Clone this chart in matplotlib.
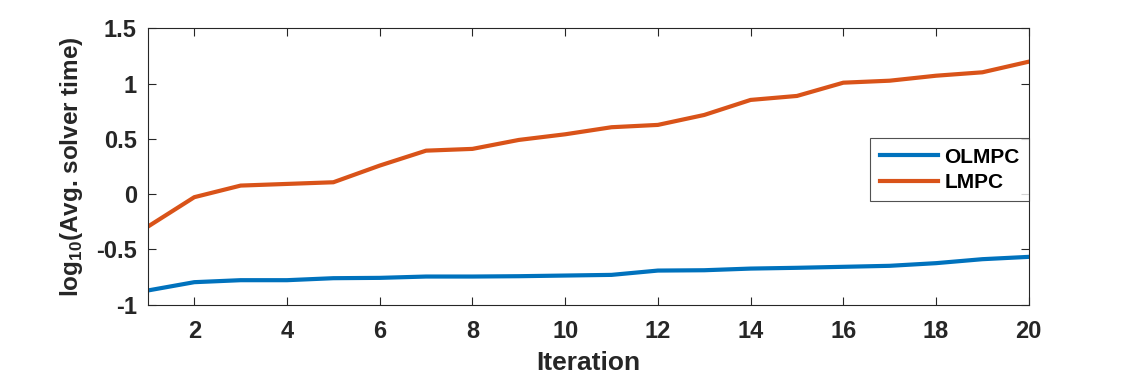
import matplotlib.pyplot as plt
import numpy as np

plt.rcParams['font.family'] = ['Liberation Sans', 'DejaVu Sans']
plt.rcParams['font.weight'] = 'bold'
plt.rcParams['mathtext.fontset'] = 'custom'
plt.rcParams['mathtext.rm'] = 'Liberation Sans:bold'

# log10 of average solver time per iteration
iterations = np.arange(1, 21)
olmpc = [-0.872, -0.797, -0.779, -0.779, -0.761, -0.758, -0.746, -0.746, -0.743, -0.737,
         -0.731, -0.692, -0.689, -0.674, -0.667, -0.658, -0.649, -0.625, -0.589, -0.568]
lmpc = [-0.294, -0.028, 0.077, 0.092, 0.107, 0.258, 0.393, 0.409, 0.490, 0.541,
        0.605, 0.626, 0.716, 0.852, 0.888, 1.008, 1.026, 1.071, 1.102, 1.198]

axis_color = (0.15, 0.15, 0.15)

fig = plt.figure(figsize=(11.38, 3.81), dpi=100)
ax = fig.add_axes([0.130, 0.2005, 0.774, 0.7252])

ax.plot(iterations, olmpc, color='#0072BD', lw=3, label='OLMPC')
ax.plot(iterations, lmpc, color='#D95319', lw=3, label='LMPC')

ax.set_xlim(1, 20)
ax.set_ylim(-1, 1.5)
ax.set_xticks(np.arange(2, 21, 2))
ax.set_yticks([-1, -0.5, 0, 0.5, 1, 1.5])
ax.set_yticklabels(['-1', '-0.5', '0', '0.5', '1', '1.5'])

ax.tick_params(direction='in', top=True, right=True, length=6, width=0.8,
               labelsize=17, colors=axis_color, labelcolor=axis_color)
ax.tick_params(axis='x', pad=11)
ax.tick_params(axis='y', pad=8)
for s in ax.spines.values():
    s.set_color(axis_color)
    s.set_linewidth(0.8)

ax.set_xlabel('Iteration', fontsize=19, fontweight='bold', color=axis_color, labelpad=6)
ax.set_ylabel(r'log$_{10}$(Avg. solver time)', fontsize=17.5, fontweight='bold',
              color=axis_color, labelpad=8)

leg = ax.legend(loc='lower left', bbox_to_anchor=(0.82, 0.374), fontsize=15,
                frameon=True, fancybox=False, edgecolor=axis_color,
                handlelength=2.8, handletextpad=0.3, borderpad=0.45,
                labelspacing=0.3, borderaxespad=0)
leg.get_frame().set_linewidth(0.8)

fig.savefig('out.png', dpi=100)
